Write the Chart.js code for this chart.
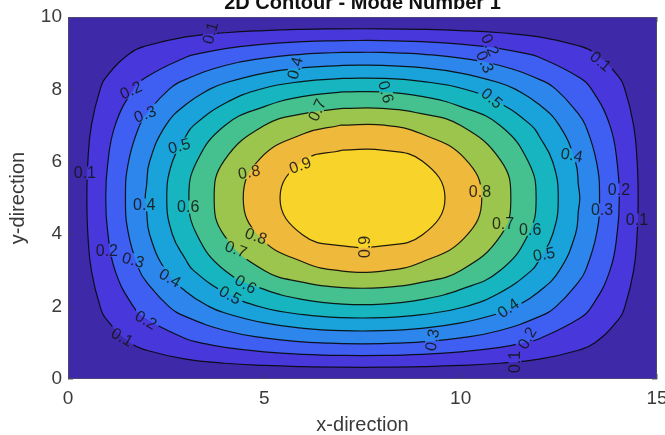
<!DOCTYPE html>
<html>
<head>
<meta charset="utf-8">
<title>2D Contour - Mode Number 1</title>
<script src="https://cdn.jsdelivr.net/npm/chart.js@4.4.1/dist/chart.umd.min.js"></script>
<style>
  html, body { margin: 0; padding: 0; background: #ffffff; }
  canvas { display: block; }
</style>
</head>
<body>
<canvas id="chart" width="665" height="435"></canvas>
<script>
// Sample grid of the plate
const xGrid = [0, 1, 2, 3, 4, 5, 6, 7, 8, 9, 10, 11, 12, 13, 14, 15];
const yGrid = [0, 1, 2, 3, 4, 5, 6, 7, 8, 9, 10];

// Mode 1 amplitude at each grid node (one row per yGrid value)
const modeShape = [
  [0, 0,      0,      0,      0,      0,      0,      0,      0,      0,      0,      0,      0,      0,      0,      0],
  [0, 0.0642, 0.1257, 0.1816, 0.2296, 0.2676, 0.2939, 0.3073, 0.3073, 0.2939, 0.2676, 0.2296, 0.1816, 0.1257, 0.0642, 0],
  [0, 0.1222, 0.2391, 0.3455, 0.4368, 0.5090, 0.5591, 0.5846, 0.5846, 0.5591, 0.5090, 0.4368, 0.3455, 0.2391, 0.1222, 0],
  [0, 0.1682, 0.3290, 0.4755, 0.6012, 0.7006, 0.7694, 0.8046, 0.8046, 0.7694, 0.7006, 0.6012, 0.4755, 0.3290, 0.1682, 0],
  [0, 0.1977, 0.3868, 0.5591, 0.7068, 0.8237, 0.9046, 0.9459, 0.9459, 0.9046, 0.8237, 0.7068, 0.5591, 0.3868, 0.1977, 0],
  [0, 0.2079, 0.4067, 0.5878, 0.7431, 0.8660, 0.9511, 0.9945, 0.9945, 0.9511, 0.8660, 0.7431, 0.5878, 0.4067, 0.2079, 0],
  [0, 0.1977, 0.3868, 0.5591, 0.7068, 0.8237, 0.9046, 0.9459, 0.9459, 0.9046, 0.8237, 0.7068, 0.5591, 0.3868, 0.1977, 0],
  [0, 0.1682, 0.3290, 0.4755, 0.6012, 0.7006, 0.7694, 0.8046, 0.8046, 0.7694, 0.7006, 0.6012, 0.4755, 0.3290, 0.1682, 0],
  [0, 0.1222, 0.2391, 0.3455, 0.4368, 0.5090, 0.5591, 0.5846, 0.5846, 0.5591, 0.5090, 0.4368, 0.3455, 0.2391, 0.1222, 0],
  [0, 0.0642, 0.1257, 0.1816, 0.2296, 0.2676, 0.2939, 0.3073, 0.3073, 0.2939, 0.2676, 0.2296, 0.1816, 0.1257, 0.0642, 0],
  [0, 0,      0,      0,      0,      0,      0,      0,      0,      0,      0,      0,      0,      0,      0,      0]
];

const contourLevels = [0.1, 0.2, 0.3, 0.4, 0.5, 0.6, 0.7, 0.8, 0.9];

// Fill colour of each band, from 0-0.1 up to 0.9-1.0
const bandColors = ['#3e2aa9', '#4838dc', '#3f5ff2', '#2d86ec', '#1aa2da', '#16b5bf', '#45c190', '#9bc54c', '#efb93c', '#f8d42a'];

const xTickValues = [0, 5, 10, 15];
const yTickValues = [0, 2, 4, 6, 8, 10];

// Inline contour labels: [level, x, y, rotation in degrees]
const contourLabels = [
  [0.1, 0.43, 5.69, 0],   [0.2, 1.60, 7.98, -25], [0.3, 1.96, 7.32, -20], [0.5, 2.83, 6.44, -15],
  [0.8, 4.61, 5.72, -10], [0.9, 5.91, 5.91, -20], [0.1, 3.62, 9.56, -75], [0.4, 5.78, 8.59, -75],
  [0.7, 6.34, 7.43, -65], [0.2, 10.75, 9.23, 65], [0.3, 10.62, 8.76, 65], [0.6, 8.10, 7.93, 75],
  [0.5, 10.80, 7.76, 40], [0.1, 13.57, 8.78, 40], [0.4, 12.83, 6.19, 10], [0.8, 10.49, 5.19, 0],
  [0.2, 14.03, 5.22, 0],  [0.3, 13.60, 4.67, 0],  [0.1, 14.49, 4.39, 0],  [0.7, 11.08, 4.28, 0],
  [0.6, 11.77, 4.14, 0],  [0.5, 12.12, 3.45, -10], [0.9, 7.56, 3.65, -90], [0.4, 11.21, 1.96, -35],
  [0.3, 9.27, 1.08, -80], [0.2, 11.69, 1.13, -60], [0.1, 11.38, 0.47, -90], [0.4, 1.94, 4.81, 0],
  [0.6, 3.06, 4.75, 0],   [0.8, 4.79, 3.95, 20],  [0.7, 4.28, 3.59, 20],  [0.2, 0.99, 3.56, 0],
  [0.3, 1.66, 3.29, 15],  [0.4, 2.60, 2.79, 30],  [0.6, 4.53, 2.62, 30],  [0.5, 4.13, 2.32, 30],
  [0.2, 1.99, 1.63, 30],  [0.1, 1.38, 1.16, 30]
];

const FONT = '"Liberation Sans", Arial, Helvetica, sans-serif';
const TEXT_COLOR = '#3a3a3a';
const LABEL_FONT_SIZE = 16;
const CURVE_TENSION = 0.45;
const MIN_VERTEX_GAP = 0.3;   // crossings closer than this (in grid units) are merged

// Marching squares on the grid, chained into one closed loop per level
function contourLoop(level) {
  const nx = xGrid.length, ny = yGrid.length;
  const pos = new Map();
  const nbr = new Map();
  const above = (i, j) => modeShape[j][i] >= level;
  const edgePoint = (i0, j0, i1, j1) => {
    const key = i0 + ',' + j0 + ',' + i1 + ',' + j1;
    if (!pos.has(key)) {
      const v0 = modeShape[j0][i0], v1 = modeShape[j1][i1];
      const t = (level - v0) / (v1 - v0);
      pos.set(key, {
        x: xGrid[i0] + t * (xGrid[i1] - xGrid[i0]),
        y: yGrid[j0] + t * (yGrid[j1] - yGrid[j0])
      });
    }
    return key;
  };
  const link = (a, b) => {
    if (!nbr.has(a)) nbr.set(a, []);
    if (!nbr.has(b)) nbr.set(b, []);
    nbr.get(a).push(b);
    nbr.get(b).push(a);
  };
  for (let j = 0; j < ny - 1; j++) {
    for (let i = 0; i < nx - 1; i++) {
      const edges = [[i, j, i + 1, j], [i + 1, j, i + 1, j + 1], [i, j + 1, i + 1, j + 1], [i, j, i, j + 1]];
      const hits = edges
        .filter(e => above(e[0], e[1]) !== above(e[2], e[3]))
        .map(e => edgePoint(e[0], e[1], e[2], e[3]));
      if (hits.length === 2) link(hits[0], hits[1]);
      else if (hits.length === 4) { link(hits[0], hits[1]); link(hits[2], hits[3]); }
    }
  }
  // start the walk at the topmost crossing so the loop closes where the curve is flat
  let start = null;
  pos.forEach((p, k) => { if (start === null || p.y > pos.get(start).y + 1e-9) start = k; });
  const loop = [start];
  let prev = null, cur = start;
  for (let guard = 0; guard < 10000; guard++) {
    const n = nbr.get(cur);
    const next = n[0] !== prev ? n[0] : n[1];
    if (next === start || next === undefined) break;
    loop.push(next);
    prev = cur;
    cur = next;
  }
  // merge near-coincident crossings (grid corners) so the spline stays smooth
  const pts = [];
  loop.map(k => pos.get(k)).forEach(p => {
    const q = pts[pts.length - 1];
    if (q && Math.hypot(p.x - q.x, p.y - q.y) < MIN_VERTEX_GAP) {
      q.x = (q.x + p.x) / 2; q.y = (q.y + p.y) / 2;
    } else {
      pts.push({x: p.x, y: p.y});
    }
  });
  pts.push({x: pts[0].x, y: pts[0].y});
  return pts;
}

const datasets = [];

// Lowest band covers the whole plate
const lastX = xGrid[xGrid.length - 1], lastY = yGrid[yGrid.length - 1];
datasets.push({
  data: [{x: xGrid[0], y: yGrid[0]}, {x: lastX, y: yGrid[0]}, {x: lastX, y: lastY}, {x: xGrid[0], y: lastY}, {x: xGrid[0], y: yGrid[0]}],
  fill: 'shape',
  backgroundColor: bandColors[0],
  borderWidth: 0,
  pointRadius: 0,
  tension: 0,
  order: 200
});

const loops = contourLevels.map(contourLoop);

contourLevels.forEach((lv, k) => {
  datasets.push({
    data: loops[k],
    fill: 'shape',
    backgroundColor: bandColors[k + 1],
    borderWidth: 0,
    pointRadius: 0,
    tension: CURVE_TENSION,
    order: 100 - k
  });
});

contourLevels.forEach((lv, k) => {
  datasets.push({
    data: loops[k],
    fill: false,
    borderColor: 'rgba(8,8,8,0.9)',
    borderWidth: 1.2,
    pointRadius: 0,
    tension: CURVE_TENSION,
    order: 0,
    contourLevel: lv
  });
});

function labelBoxPath(ctx, chart, lv) {
  const xs = chart.scales.x, ys = chart.scales.y;
  ctx.font = LABEL_FONT_SIZE + 'px ' + FONT;
  contourLabels.filter(l => l[0] === lv).forEach(l => {
    const px = xs.getPixelForValue(l[1]), py = ys.getPixelForValue(l[2]);
    const w = ctx.measureText(String(l[0])).width + 5, h = 13;
    const a = l[3] * Math.PI / 180, c = Math.cos(a), s = Math.sin(a);
    const corners = [[-w / 2, -h / 2], [w / 2, -h / 2], [w / 2, h / 2], [-w / 2, h / 2]];
    corners.forEach((p, idx) => {
      const X = px + p[0] * c - p[1] * s, Y = py + p[0] * s + p[1] * c;
      if (idx === 0) ctx.moveTo(X, Y); else ctx.lineTo(X, Y);
    });
    ctx.closePath();
  });
}

const contourDecor = {
  id: 'contourDecor',
  beforeDatasetDraw(chart, args) {
    const ds = chart.data.datasets[args.index];
    if (ds.contourLevel === undefined) return;
    const ctx = chart.ctx;
    ctx.save();
    ctx.beginPath();
    ctx.rect(0, 0, chart.width, chart.height);
    labelBoxPath(ctx, chart, ds.contourLevel);
    ctx.clip('evenodd');
    ds._clipped = true;
  },
  afterDatasetDraw(chart, args) {
    const ds = chart.data.datasets[args.index];
    if (ds._clipped) { chart.ctx.restore(); ds._clipped = false; }
  },
  afterDatasetsDraw(chart) {
    const ctx = chart.ctx;
    const {left, right, top, bottom} = chart.chartArea;
    const xs = chart.scales.x, ys = chart.scales.y;

    // contour labels
    ctx.save();
    ctx.beginPath();
    ctx.rect(left, top, right - left, bottom - top);
    ctx.clip();
    ctx.font = LABEL_FONT_SIZE + 'px ' + FONT;
    ctx.fillStyle = 'rgba(20,20,20,0.88)';
    ctx.textAlign = 'center';
    ctx.textBaseline = 'middle';
    contourLabels.forEach(l => {
      ctx.save();
      ctx.translate(xs.getPixelForValue(l[1]), ys.getPixelForValue(l[2]));
      ctx.rotate(l[3] * Math.PI / 180);
      ctx.fillText(String(l[0]), 0, 1);
      ctx.restore();
    });
    ctx.restore();

    // axes box with inward ticks
    ctx.save();
    ctx.strokeStyle = 'rgba(60,60,60,0.45)';
    ctx.lineWidth = 1;
    ctx.beginPath();
    xTickValues.forEach(v => {
      const px = Math.round(xs.getPixelForValue(v)) + 0.5;
      ctx.moveTo(px, bottom); ctx.lineTo(px, bottom - 5);
      ctx.moveTo(px, top); ctx.lineTo(px, top + 5);
    });
    yTickValues.forEach(v => {
      const py = Math.round(ys.getPixelForValue(v)) + 0.5;
      ctx.moveTo(left, py); ctx.lineTo(left + 5, py);
      ctx.moveTo(right, py); ctx.lineTo(right - 5, py);
    });
    ctx.stroke();
    ctx.strokeStyle = 'rgba(90,90,90,0.6)';
    ctx.strokeRect(left + 0.5, top + 0.5, right - left - 1, bottom - top - 1);
    ctx.restore();
  },
  afterDraw(chart) {
    const ctx = chart.ctx;
    const {left, right} = chart.chartArea;
    ctx.save();
    ctx.font = 'bold 20px ' + FONT;
    ctx.fillStyle = '#111111';
    ctx.textAlign = 'center';
    ctx.textBaseline = 'alphabetic';
    ctx.fillText('2D Contour - Mode Number 1', (left + right) / 2, 8.5);
    ctx.restore();
  }
};

new Chart(document.getElementById('chart'), {
  type: 'line',
  data: { datasets },
  options: {
    responsive: false,
    devicePixelRatio: 1,
    animation: false,
    events: [],
    layout: { padding: { top: 17, right: 8, bottom: 0, left: 0 } },
    plugins: {
      legend: { display: false },
      tooltip: { enabled: false },
      title: { display: false }
    },
    scales: {
      x: {
        type: 'linear',
        min: 0,
        max: 15,
        grid: { display: false, drawTicks: false },
        border: { display: false },
        afterBuildTicks: s => { s.ticks = xTickValues.map(v => ({ value: v })); },
        ticks: { color: TEXT_COLOR, font: { family: FONT, size: 19 }, padding: 8, maxRotation: 0, autoSkip: false },
        title: { display: true, text: 'x-direction', color: TEXT_COLOR, font: { family: FONT, size: 20 }, padding: { top: 0, bottom: -2 } },
        afterFit: s => { s.height = 56; s.paddingLeft = 0; s.paddingRight = 0; }
      },
      y: {
        type: 'linear',
        min: 0,
        max: 10,
        grid: { display: false, drawTicks: false },
        border: { display: false },
        afterBuildTicks: s => { s.ticks = yTickValues.map(v => ({ value: v })); },
        ticks: { color: TEXT_COLOR, font: { family: FONT, size: 19 }, padding: 6, autoSkip: false },
        title: { display: true, text: 'y-direction', color: TEXT_COLOR, font: { family: FONT, size: 20 }, padding: { top: 6, bottom: 0 } },
        afterFit: s => { s.width = 68; s.paddingTop = 0; s.paddingBottom = 0; }
      }
    }
  },
  plugins: [contourDecor]
});
</script>
</body>
</html>
